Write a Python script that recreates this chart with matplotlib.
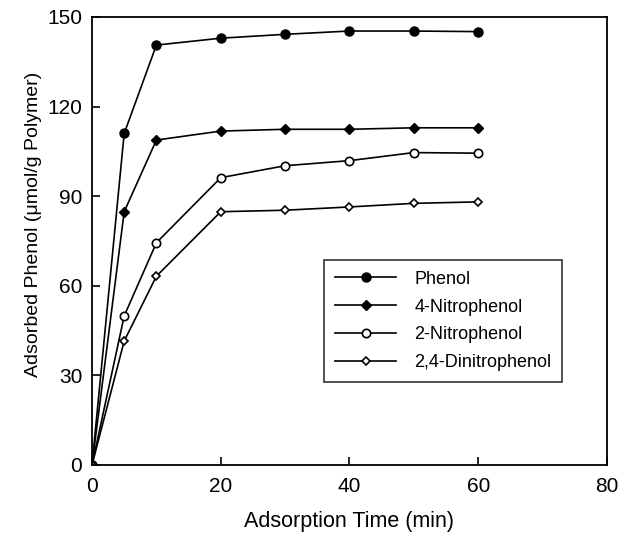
import matplotlib
matplotlib.use("Agg")
import matplotlib.pyplot as plt

plt.rcParams['font.family'] = ['Liberation Sans', 'DejaVu Sans']

time = [0, 5, 10, 20, 30, 40, 50, 60]
phenol = [0, 111.0, 140.6, 142.9, 144.2, 145.3, 145.3, 145.1]
nitro4 = [0, 84.8, 108.8, 111.8, 112.4, 112.4, 112.9, 112.9]
nitro2 = [0, 49.9, 74.4, 96.2, 100.2, 101.9, 104.6, 104.4]
dinitro = [0, 41.5, 63.2, 84.8, 85.3, 86.4, 87.6, 88.1]

xticks = [0, 20, 40, 60, 80]
yticks = [0, 30, 60, 90, 120, 150]

fig = plt.figure(figsize=(6.2, 5.36), dpi=100)
ax = fig.add_axes([0.1484, 0.1325, 0.8306, 0.8358])

ax.plot(time, phenol, color='black', lw=1.2, marker='o', ms=6.5, mfc='black', mec='black', label='Phenol')
ax.plot(time, nitro4, color='black', lw=1.2, marker='D', ms=5, mfc='black', mec='black', label='4-Nitrophenol')
ax.plot(time, nitro2, color='black', lw=1.2, marker='o', ms=6, mfc='white', mec='black', mew=1.2, label='2-Nitrophenol')
ax.plot(time, dinitro, color='black', lw=1.2, marker='D', ms=4.3, mfc='white', mec='black', mew=1.2, label='2,4-Dinitrophenol')

ax.set_xlim(0, 80)
ax.set_ylim(0, 150)
ax.set_xticks(xticks)
ax.set_yticks(yticks)
ax.tick_params(direction='in', length=6, width=1.2, labelsize=15)
ax.tick_params(axis='x', pad=8.5)
ax.tick_params(axis='y', pad=7)
for s in ax.spines.values():
    s.set_linewidth(1.3)

ax.set_xlabel('Adsorption Time (min)', fontsize=15.5, labelpad=11)
ax.set_ylabel('Adsorbed Phenol (\u03bcmol/g Polymer)', fontsize=14, labelpad=6)
ax.yaxis.set_label_coords(-0.097, 0.538)

leg = ax.legend(loc='upper left', bbox_to_anchor=(0.4505, 0.4576),
                fontsize=13, frameon=True, fancybox=False, edgecolor='black',
                handlelength=3.4, handletextpad=1.0, borderpad=0.6, labelspacing=0.6,
                borderaxespad=0)
leg.get_frame().set_linewidth(1.2)

fig.savefig('out.png', dpi=100)
